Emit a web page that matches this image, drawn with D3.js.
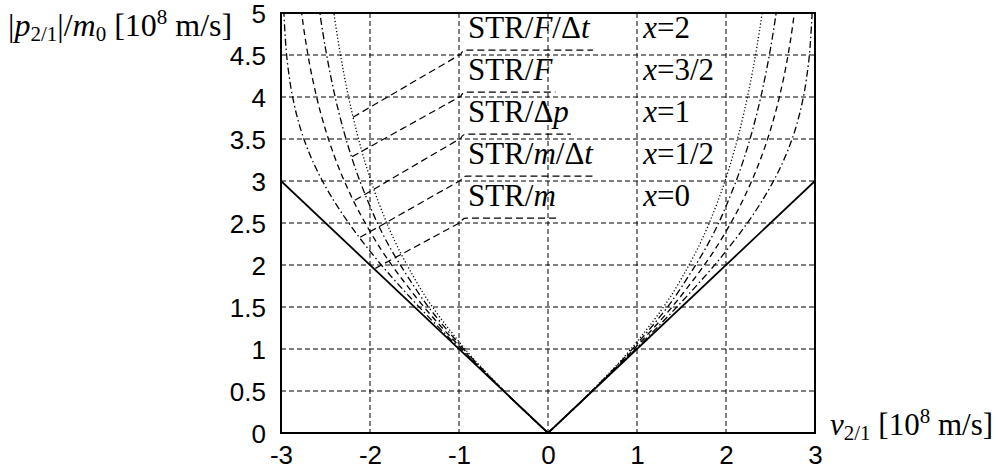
<!DOCTYPE html>
<html>
<head>
<meta charset="utf-8">
<script src="https://cdn.jsdelivr.net/npm/d3@7"></script>
<style>
  body { margin: 0; background: #fff; }
  svg { display: block; }
</style>
</head>
<body>
<div id="chart"></div>
<script>
// ticks
const xTicks = [-3, -2, -1, 0, 1, 2, 3];
const yTicks = [0, 0.5, 1, 1.5, 2, 2.5, 3, 3.5, 4, 4.5, 5];

// curves: |v| (positive branch, chart is symmetric) and |p|/m0
const speedsX0 = [0, 3];
const momentaX0 = [0, 3];
const speedsX05 = [0, 0.5, 1, 1.5, 2, 2.2, 2.4, 2.5, 2.6, 2.7, 2.8, 2.85, 2.9, 2.95, 2.97];
const momentaX05 = [0, 0.502, 1.016, 1.559, 2.165, 2.442, 2.755, 2.934, 3.137, 3.379, 3.692, 3.903, 4.189, 4.674, 5.04];
const speedsX1 = [0, 0.5, 1, 1.5, 2, 2.2, 2.4, 2.5, 2.6, 2.7, 2.75, 2.8];
const momentaX1 = [0, 0.504, 1.037, 1.64, 2.4, 2.795, 3.294, 3.61, 4.001, 4.518, 4.856, 5.284];
const speedsX15 = [0, 0.5, 1, 1.5, 2, 2.2, 2.3, 2.4, 2.5, 2.55, 2.6];
const momentaX15 = [0, 0.507, 1.062, 1.737, 2.699, 3.261, 3.614, 4.041, 4.577, 4.903, 5.285];
const speedsX2 = [0, 0.5, 1, 1.5, 1.8, 2, 2.1, 2.2, 2.3, 2.4, 2.45];
const momentaX2 = [0, 0.51, 1.087, 1.84, 2.471, 3.036, 3.387, 3.805, 4.315, 4.957, 5.348];

// legend rows (top to bottom)
const methodNames = ["STR/F/Δt", "STR/F", "STR/Δp", "STR/m/Δt", "STR/m"];
const exponentNames = ["x=2", "x=3/2", "x=1", "x=1/2", "x=0"];
// point on each curve the leader line goes to
const leaderSpeeds = [-2.19, -2.2, -2.17, -2.11, -1.94];
const leaderMomenta = [3.76, 3.29, 2.77, 2.33, 1.96];

const W = 998, H = 473;
const margin = { top: 13, right: 183, bottom: 40, left: 281 };
const width = W - margin.left - margin.right;
const height = H - margin.top - margin.bottom;

const svg = d3.select("#chart").append("svg")
  .attr("width", W)
  .attr("height", H);

const g = svg.append("g")
  .attr("transform", `translate(${margin.left},${margin.top})`);

const x = d3.scaleLinear().domain([-3, 3]).range([0, width]);
const y = d3.scaleLinear().domain([0, 5]).range([height, 0]);

// grid
g.append("g").selectAll("line")
  .data(xTicks.slice(1, -1))
  .enter().append("line")
  .attr("x1", d => x(d)).attr("x2", d => x(d))
  .attr("y1", 0).attr("y2", height)
  .attr("stroke", "#000").attr("stroke-width", 1)
  .attr("stroke-dasharray", "5,3");

g.append("g").selectAll("line")
  .data(yTicks.slice(1, -1))
  .enter().append("line")
  .attr("x1", 0).attr("x2", width)
  .attr("y1", d => y(d)).attr("y2", d => y(d))
  .attr("stroke", "#000").attr("stroke-width", 1)
  .attr("stroke-dasharray", "5,3");

// axes (plain hyphen minus like the original)
const xAxis = d3.axisBottom(x).tickValues(xTicks).tickSize(0).tickPadding(15)
  .tickFormat(d => String(d));
const yAxis = d3.axisLeft(y).tickValues(yTicks).tickSize(0).tickPadding(15)
  .tickFormat(d => String(d));

const gx = g.append("g").attr("transform", `translate(0,${height})`).call(xAxis);
const gy = g.append("g").call(yAxis);
[gx, gy].forEach(a => {
  a.select(".domain").remove();
  a.selectAll("text")
    .attr("fill", "#000")
    .style("font-family", "'Liberation Sans', Arial, sans-serif")
    .style("font-size", "26px");
});
gx.selectAll("text").attr("dy", "0.62em");
gy.selectAll("text").attr("dy", "0.36em");

// curves
g.append("clipPath").attr("id", "plotClip")
  .append("rect").attr("width", width).attr("height", height);

const curves = [
  { v: speedsX0, p: momentaX0, dash: null },
  { v: speedsX05, p: momentaX05, dash: "7,3,1.5,3" },
  { v: speedsX1, p: momentaX1, dash: "6,4" },
  { v: speedsX15, p: momentaX15, dash: "7,3,1.5,3" },
  { v: speedsX2, p: momentaX2, dash: "1.2,2.2" }
];

const line = d3.line()
  .x(d => x(d[0]))
  .y(d => y(d[1]))
  .curve(d3.curveMonotoneX);

const curveLayer = g.append("g").attr("clip-path", "url(#plotClip)");
curves.forEach(c => {
  const right = c.v.map((v, i) => [v, c.p[i]]);
  const left = c.v.map((v, i) => [-v, c.p[i]]).reverse();
  [left, right].forEach(half => {
    curveLayer.append("path")
      .datum(half)
      .attr("d", line)
      .attr("fill", "none")
      .attr("stroke", "#000")
      .attr("stroke-width", c.dash ? 1.3 : 1.8)
      .attr("stroke-dasharray", c.dash);
  });
});

// legend text with italics for variables
const serif = "'Liberation Serif', 'Times New Roman', serif";
function addRich(sel, str, italicChars) {
  for (const ch of str) {
    sel.append("tspan")
      .attr("font-style", italicChars.includes(ch) ? "italic" : "normal")
      .text(ch);
  }
}

methodNames.forEach((name, k) => {
  const base = 4.7 - 0.5 * k;
  const t = g.append("text")
    .attr("x", x(-0.9))
    .attr("y", y(base))
    .style("font-family", serif)
    .style("font-size", "31px");
  addRich(t, name, ["F", "m", "p", "t"]);

  const bb = t.node().getBBox();
  const uy = y(base) + 12;
  // leader from curve to the underline
  const lx = x(leaderSpeeds[k]), ly = y(leaderMomenta[k]);
  g.append("path")
    .attr("d", `M${lx},${ly} L${x(-0.98)},${uy + 4} Q${x(-0.96)},${uy} ${x(-0.92)},${uy} L${bb.x + bb.width + 2},${uy}`)
    .attr("fill", "none")
    .attr("stroke", "#000")
    .attr("stroke-width", 1.2)
    .attr("stroke-dasharray", "7,4");

  const e = g.append("text")
    .attr("x", x(1.07))
    .attr("y", y(base))
    .style("font-family", serif)
    .style("font-size", "31px");
  addRich(e, exponentNames[k], ["x"]);
});

// frame
g.append("rect")
  .attr("width", width).attr("height", height)
  .attr("fill", "none").attr("stroke", "#000").attr("stroke-width", 2);

// axis titles
const yt = svg.append("text")
  .attr("x", 8).attr("y", 36)
  .style("font-family", serif)
  .style("font-size", "32px");
yt.append("tspan").text("|");
yt.append("tspan").attr("font-style", "italic").text("p");
yt.append("tspan").attr("font-size", "21px").attr("dy", 5).text("2/1");
yt.append("tspan").attr("dy", -5).text("|/");
yt.append("tspan").attr("font-style", "italic").text("m");
yt.append("tspan").attr("font-size", "21px").attr("dy", 5).text("0");
yt.append("tspan").attr("dy", -5).text(" [10");
yt.append("tspan").attr("font-size", "21px").attr("dy", -12).text("8");
yt.append("tspan").attr("dy", 12).text(" m/s]");

const xt = svg.append("text")
  .attr("x", 830).attr("y", 435)
  .style("font-family", serif)
  .style("font-size", "31px");
xt.append("tspan").attr("font-style", "italic").text("v");
xt.append("tspan").attr("font-size", "21px").attr("dy", 5).text("2/1");
xt.append("tspan").attr("dy", -5).text(" [10");
xt.append("tspan").attr("font-size", "21px").attr("dy", -12).text("8");
xt.append("tspan").attr("dy", 12).text(" m/s]");
</script>
</body>
</html>
